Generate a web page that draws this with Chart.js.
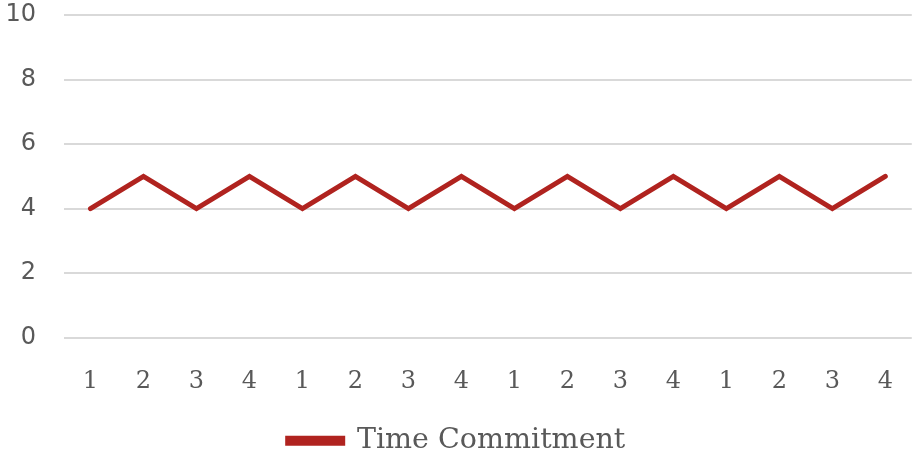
<!DOCTYPE html>
<html><head><meta charset="utf-8">
<script src="https://cdn.jsdelivr.net/npm/chart.js@4/dist/chart.umd.min.js"></script>
<style>html,body{margin:0;padding:0;background:#fff}#wrap{width:915px;height:457px}</style>
</head><body><div id="wrap"><canvas id="c"></canvas></div>
<script>
const categories = ["1","2","3","4","1","2","3","4","1","2","3","4","1","2","3","4"];
const timeCommitment = [4,5,4,5,4,5,4,5,4,5,4,5,4,5,4,5];
const yTicks = [0,2,4,6,8,10];
const seriesName = "Time Commitment";

const red = "#B0231F";
const txt = "#595959";
new Chart(document.getElementById("c"), {
  type: "line",
  data: {
    labels: categories,
    datasets: [{
      label: seriesName,
      data: timeCommitment,
      borderColor: red,
      backgroundColor: red,
      borderWidth: 5,
      pointRadius: 0,
      tension: 0,
      borderCapStyle: "round",
      borderJoinStyle: "miter"
    }]
  },
  options: {
    responsive: true,
    maintainAspectRatio: false,
    animation: false,
    devicePixelRatio: 1,
    layout: { padding: { top: 0, right: 2, left: 0, bottom: -8 } },
    scales: {
      x: {
        offset: true,
        grid: { display: false },
        border: { display: false },
        ticks: { color: txt, font: { family: "DejaVu Serif", size: 24 }, padding: 22, maxRotation: 0, autoSkip: false }
      },
      y: {
        min: 0, max: 10,
        afterBuildTicks: (s) => { s.ticks = yTicks.map(v => ({ value: v })); },
        afterFit: (s) => { s.width = 64; s.paddingTop = 15; s.paddingBottom = 0; },
        grid: { color: "#D9D9D9", lineWidth: 2, drawTicks: false },
        border: { display: false },
        ticks: { color: txt, font: { family: "DejaVu Sans", size: 24 }, padding: 28 }
      }
    },
    plugins: {
      legend: {
        position: "bottom",
        labels: { color: txt, font: { family: "DejaVu Serif", size: 28.5 }, boxWidth: 55, boxHeight: 5, padding: 8 }
      },
      tooltip: { enabled: false }
    }
  }
});
</script></body></html>
